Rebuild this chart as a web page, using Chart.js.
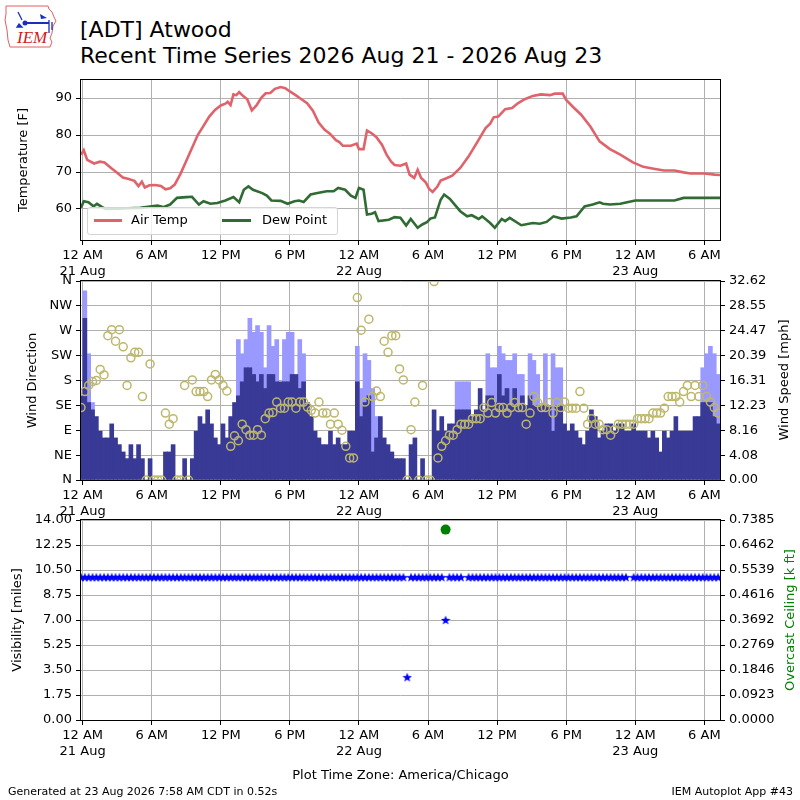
<!DOCTYPE html>
<html>
<head>
<meta charset="utf-8">
<title>[ADT] Atwood</title>
<script src="https://cdn.jsdelivr.net/npm/chart.js@4.4.1/dist/chart.umd.min.js"></script>
<style>
  body { margin: 0; background: #fff; font-family: 'DejaVu Sans', sans-serif; }
  #page { position: relative; width: 800px; height: 800px; overflow: hidden; background: #fff; }
  .panel { position: absolute; left: 0; }
  .txt { position: absolute; white-space: nowrap; color: #000; }
  .vtitle { position: absolute; white-space: nowrap; font-size: 13px; line-height: 16px;
    transform: translate(-50%, -50%) rotate(-90deg); }
</style>
</head>
<body>
<div id="page">
  <svg width="64" height="52" style="position:absolute;left:0;top:0">
    <path d="M6 6 L48 6 L49 9 L52 12 L54 17 L56 21 L53 26 L52 33 L50 38 L52 42 L50 47 L10 47 L8 40 L7 30 L5 20 L6 14 Z"
      fill="none" stroke="#e06060" stroke-width="1"/>
    <path d="M25 23 L49 23" stroke="#1a2fc0" stroke-width="2" fill="none"/>
    <circle cx="25" cy="23" r="2.5" fill="#1a2fc0"/>
    <path d="M18 12 L22 20 M19 24 L22 27 L17 27 Z" stroke="#1a2fc0" stroke-width="1.3" fill="#1a2fc0"/>
    <path d="M40 14 L47 18 L41 19 Z" fill="#1a2fc0"/>
    <path d="M49 20 L49 33 M52 22 L52 30" stroke="#1a2fc0" stroke-width="1.3"/>
    <text x="17" y="43" font-family="Liberation Serif" font-style="italic" font-size="17" fill="#d02020">IEM</text>
  </svg>
  <div class="txt" style="left:80px;top:16px;font-size:22px;line-height:28px">[ADT] Atwood</div>
  <div class="txt" style="left:80px;top:42px;font-size:22px;line-height:28px">Recent Time Series 2026 Aug 21 - 2026 Aug 23</div>

  <canvas id="canvas-temp" class="panel" width="800" height="214" style="top:68px"></canvas>
  <div id="temp-legend" style="position:absolute;left:87px;top:207px;width:249px;height:26px;border:1px solid #d4d4d4;border-radius:3px;background:rgba(255,255,255,0.8)">
    <span style="position:absolute;left:6px;top:11px;width:28px;height:3px;background:#e0626b"></span>
    <span class="txt" style="left:43px;top:3px;font-size:13px;line-height:18px">Air Temp</span>
    <span style="position:absolute;left:134px;top:11px;width:29px;height:3px;background:#2f6b33"></span>
    <span class="txt" style="left:174px;top:3px;font-size:13px;line-height:18px">Dew Point</span>
  </div>
  <canvas id="canvas-wind" class="panel" width="800" height="256" style="top:266px"></canvas>
  <canvas id="canvas-vis" class="panel" width="800" height="282" style="top:505px"></canvas>

  <div class="vtitle" style="left:784px;top:380px">Wind Speed [mph]</div>
  <div class="vtitle" style="left:790px;top:620px;color:#008000">Overcast Ceiling [k ft]</div>

  <div class="txt" style="left:8px;top:785px;font-size:11px;line-height:14px">Generated at 23 Aug 2026 7:58 AM CDT in 0.52s</div>
  <div class="txt" style="right:7px;top:785px;font-size:11px;line-height:14px">IEM Autoplot App #43</div>
</div>
<script>
'use strict';

// hours since 12 AM 21 Aug (America/Chicago)
var tempHours = [-0.14, 0.1, 0.4, 1.0, 1.5, 1.9, 2.5, 3.0, 3.5, 4.0, 4.5, 4.85, 5.15, 5.4, 5.8, 6.3, 6.8, 7.2, 7.6, 8.0,
  8.5, 9.0, 9.5, 10.0, 10.5, 11.0, 11.5, 12.0, 12.4, 12.6, 12.85, 13.1, 13.35, 13.6, 14.0, 14.3, 14.7, 15.1, 15.5, 15.9,
  16.3, 16.7, 17.2, 17.6, 18.0, 18.5, 19.0, 19.5, 20.0, 20.5, 21.0, 21.5, 22.0, 22.3, 22.6, 23.3, 23.8, 24.0, 24.4, 24.7,
  25.1, 25.5, 26.0, 26.4, 26.8, 27.1, 27.6, 28.1, 28.4, 28.8, 29.1, 29.4, 29.8, 30.1, 30.4, 30.8, 31.1, 31.6, 32.1, 32.8,
  33.5, 34.2, 35.0, 35.4, 35.7, 36.1, 36.7, 37.3, 37.8, 38.4, 39.1, 39.8, 40.6, 41.0, 41.7, 42.0, 42.6, 43.3, 44.1, 44.9,
  45.8, 46.7, 47.8, 48.7, 49.6, 50.5, 51.4, 52.2, 52.8, 54.0, 54.9, 55.36];
var tempF = [74.7, 75.9, 73.3, 72.3, 72.8, 72.6, 71.0, 69.8, 68.5, 68.1, 67.6, 66.2, 67.4, 65.8, 66.4, 66.5, 66.2, 65.3, 65.6, 66.6,
  69.5, 73.0, 76.5, 80.0, 82.5, 85.0, 86.8, 88.0, 88.5, 89.0, 88.1, 91.0, 90.8, 91.6, 90.4, 89.7, 86.7, 88.0, 90.0, 91.3,
  91.4, 92.5, 93.0, 92.7, 91.8, 90.8, 89.7, 88.6, 86.6, 83.4, 81.5, 80.3, 78.6, 78.1, 77.1, 77.1, 77.7, 76.2, 76.2, 81.2,
  80.5, 79.5, 77.4, 74.7, 72.8, 71.9, 71.7, 72.3, 69.3, 68.4, 70.6, 68.4, 67.2, 65.4, 64.6, 66.0, 67.7, 68.3, 69.0, 71.1,
  74.1, 77.7, 81.9, 83.1, 84.8, 85.0, 87.0, 87.3, 88.6, 89.7, 90.6, 91.0, 90.8, 91.2, 91.2, 89.5, 87.6, 85.5, 82.3, 78.3,
  76.2, 74.7, 72.6, 71.4, 70.9, 70.4, 70.4, 69.9, 69.6, 69.6, 69.3, 69.2];

var dewHours = [-0.14, 0.1, 0.5, 0.95, 1.25, 1.7, 2.0, 3.0, 4.0, 5.0, 6.0, 6.5, 7.0, 7.6, 8.2, 9.0, 9.5, 10.1, 10.5, 11.1,
  11.7, 12.4, 13.1, 13.6, 14.0, 14.4, 14.8, 15.6, 16.0, 16.4, 17.2, 17.8, 18.4, 18.8, 19.2, 19.8, 20.4, 21.2, 21.8, 22.2,
  22.8, 23.3, 23.7, 24.0, 24.4, 24.7, 25.1, 25.4, 25.7, 26.6, 27.1, 27.6, 28.1, 28.5, 29.1, 29.5, 29.9, 30.2, 30.6, 31.1,
  31.4, 31.9, 32.8, 33.4, 33.8, 34.4, 34.7, 35.4, 35.8, 36.4, 36.7, 37.1, 38.1, 39.1, 39.7, 40.3, 40.9, 41.6, 42.4, 42.9,
  43.6, 44.3, 44.9, 45.2, 45.8, 46.7, 48.0, 51.4, 52.2, 55.36];
var dewF = [60.3, 62.1, 61.8, 60.7, 61.4, 60.5, 60.0, 60.1, 60.2, 60.3, 60.7, 60.9, 60.5, 61.2, 63.0, 63.2, 63.3, 61.2, 62.1, 61.4,
  61.6, 62.3, 63.2, 61.8, 65.2, 66.1, 65.2, 64.3, 63.6, 62.3, 62.2, 61.4, 62.1, 62.3, 61.9, 63.9, 64.3, 64.8, 64.8, 65.7,
  65.2, 63.6, 63.0, 65.7, 65.2, 58.5, 58.7, 59.1, 56.7, 57.1, 57.8, 57.6, 55.5, 57.3, 54.9, 55.8, 56.4, 57.4, 57.7, 62.5,
  63.9, 62.7, 59.4, 58.0, 58.3, 57.3, 58.0, 56.2, 54.9, 57.3, 56.7, 57.6, 55.6, 56.2, 56.0, 56.5, 58.0, 57.4, 57.7, 58.0,
  60.7, 61.2, 61.8, 61.4, 61.2, 61.4, 62.3, 62.3, 63.0, 63.0];

// 20 minute observations, first one at 23:52 20 Aug
var firstObsHour = -0.14;
var obsStepHours = 1 / 3;

var windSpeed = [ // mph
  13.8, 26.5, 12.7, 11.5, 10.4, 8.0, 6.9, 6.9, 9.2, 6.9, 5.8, 4.6,
  3.5, 5.8, 3.5, 5.8, 3.5, 0, 3.5, 0, 0, 0, 4.6, 4.6,
  5.8, 0, 0, 3.5, 0, 3.5, 8.0, 10.4, 9.2, 11.5, 9.2, 6.9,
  5.8, 9.2, 6.9, 10.4, 12.7, 13.8, 16.1, 18.4, 18.4, 17.3, 16.1, 17.3,
  15.0, 17.3, 17.3, 16.1, 16.1, 16.1, 16.1, 17.3, 17.3, 15.0, 16.1, 12.7,
  10.4, 8.0, 6.9, 5.8, 5.8, 8.0, 5.8, 6.9, 5.8, 5.8, 8.0, 8.0,
  16.1, 10.4, 12.7, 13.8, 4.6, 6.9, 10.4, 6.9, 5.8, 4.6, 3.5, 3.5,
  3.5, 0, 5.8, 6.9, 0, 3.5, 0, 0, 11.5, 8.0, 10.4, 8.0,
  9.2, 9.2, 11.5, 11.5, 11.5, 11.5, 10.4, 11.5, 15.0, 11.5, 13.8, 13.8,
  12.7, 17.3, 13.8, 15.0, 12.2, 15.0, 12.2, 13.8, 12.2, 13.8, 12.2, 12.2,
  12.2, 12.2, 12.2, 8.0, 12.2, 12.2, 9.2, 8.0, 9.2, 8.0, 6.9, 5.8,
  8.0, 11.5, 10.4, 6.9, 8.0, 9.2, 9.2, 8.0, 9.2, 9.2, 8.0, 8.0,
  9.2, 8.0, 8.0, 8.0, 6.9, 8.0, 6.9, 4.6, 8.0, 6.9, 8.0, 10.4,
  8.0, 8.0, 8.0, 8.0, 10.4, 10.4, 12.7, 12.7, 12.7, 10.4, 9.2];

var windGust = [ // mph
  null, 31.0, 20.7, 12.7, null, null, null, null, null, null, null, null,
  null, null, null, null, null, null, null, null, null, null, null, null,
  null, null, null, null, null, null, null, null, null, null, null, null,
  null, null, null, null, null, 23.0, 20.7, 23.0, 26.5, 24.2, 25.3, 24.2,
  18.4, 25.3, 21.9, 23.0, null, 23.0, 24.2, 24.2, null, 23.0, 20.7, null,
  null, null, null, null, null, null, null, null, null, null, null, null,
  21.9, 15.0, 20.7, 19.6, 15.0, 10.4, null, null, null, null, null, null,
  null, null, null, null, null, null, null, null, null, null, null, null,
  null, null, 16.1, 16.1, 16.1, 16.1, null, null, null, null, 20.7, 18.4,
  18.4, 21.9, 20.7, 19.6, 19.6, 20.7, 17.3, 17.3, null, 20.7, 19.6, 17.3,
  null, 20.7, null, 20.7, 18.4, 18.4, null, null, null, null, null, null,
  null, null, null, null, null, null, null, null, null, null, null, null,
  null, null, null, null, null, null, null, null, null, null, null, null,
  null, null, null, null, null, null, 18.4, 20.7, 21.9, 20.7, 17.3];

var windDir = [ // degrees
  131, 160, 171, 178, 180, 200, 190, 261, 272, 251, 272, 241,
  171, 221, 231, 231, 151, 0, 210, 0, 0, 0, 121, 101,
  111, 0, 0, 171, 0, 181, 160, 160, 160, 151, 181, 191,
  181, 171, 161, 61, 80, 71, 101, 91, 81, 81, 91, 81,
  111, 121, 122, 141, 130, 130, 141, 141, 130, 141, 141, 132,
  126, 121, 141, 121, 121, 101, 121, 101, 90, 61, 40, 40,
  330, 271, 141, 291, 151, 161, 151, 251, 231, 261, 261, 201,
  181, 0, 91, 141, 0, 171, 0, 0, 359, 40, 61, 71,
  81, 81, 91, 101, 101, 101, 111, 111, 111, 131, 121, 140,
  121, 131, 131, 121, 131, 140, 131, 131, 101, 121, 151, 140,
  131, 131, 140, 121, 140, 131, 141, 130, 130, 130, 160, 130,
  101, 111, 101, 101, 91, 91, 81, 91, 101, 101, 101, 101,
  101, 111, 111, 111, 111, 121, 121, 121, 130, 151, 151, 151,
  141, 160, 171, 151, 171, 151, 171, 151, 141, 131, 121];

var visMiles = [
  10, 10, 10, 10, 10, 10, 10, 10, 10, 10, 10, 10,
  10, 10, 10, 10, 10, 10, 10, 10, 10, 10, 10, 10,
  10, 10, 10, 10, 10, 10, 10, 10, 10, 10, 10, 10,
  10, 10, 10, 10, 10, 10, 10, 10, 10, 10, 10, 10,
  10, 10, 10, 10, 10, 10, 10, 10, 10, 10, 10, 10,
  10, 10, 10, 10, 10, 10, 10, 10, 10, 10, 10, 10,
  10, 10, 10, 10, 10, 10, 10, 10, 10, 10, 10, 10,
  10, 3, 10, 10, 10, 10, 10, 10, 10, 10, 10, 7,
  10, 10, 10, 10, null, 10, 10, 10, 10, 10, 10, 10,
  10, 10, 10, 10, 10, 10, 10, 10, 10, 10, 10, 10,
  10, 10, 10, 10, 10, 10, 10, 10, 10, 10, 10, 10,
  10, 10, 10, 10, 10, 10, 10, 10, 10, 10, 10, null,
  10, 10, 10, 10, 10, 10, 10, 10, 10, 10, 10, 10,
  10, 10, 10, 10, 10, 10, 10, 10, 10, 10, 10];

var ceilingObs = [95];
var ceilingKft = [0.703];

var hourTicks = [0, 6, 12, 18, 24, 30, 36, 42, 48, 54];
var dayLabels = ['21 Aug', '22 Aug', '23 Aug'];
var tempTicks = [60, 70, 80, 90];
var dirTickLabels = ['N', 'NE', 'E', 'SE', 'S', 'SW', 'W', 'NW', 'N'];
var speedTickLabels = ['0.00', '4.08', '8.16', '12.23', '16.31', '20.39', '24.47', '28.55', '32.62'];
var visTickLabels = ['0.00', '1.75', '3.50', '5.25', '7.00', '8.75', '10.50', '12.25', '14.00'];
var ceilTickLabels = ['0.0000', '0.0923', '0.1846', '0.2769', '0.3692', '0.4616', '0.5539', '0.6462', '0.7385'];

var tempColor = '#e0626b';
var dewColor = '#2f6b33';
var speedColor = '#393996';
var gustColor = '#9999ff';
var dirColor = '#bdb76b';

Chart.defaults.font.family = "'DejaVu Sans', sans-serif";
Chart.defaults.font.size = 13;
Chart.defaults.color = '#000';

function obsHour(i) { return firstObsHour + i * obsStepHours; }
function pairs(xs, ys) { return ys.map(function (v, i) { return { x: xs[i], y: v }; }); }
function obsPairs(values) { return values.map(function (v, i) { return { x: obsHour(i), y: v }; }); }
function evenly(min, max, n) {
  var out = [];
  for (var i = 0; i < n; i++) out.push(min + i * (max - min) / (n - 1));
  return out;
}

function hourLabel(h) {
  var hr = h % 24;
  var txt;
  if (hr === 0) txt = '12 AM';
  else if (hr === 12) txt = '12 PM';
  else txt = hr < 12 ? hr + ' AM' : (hr - 12) + ' PM';
  if (hr === 0) return [txt, dayLabels[h / 24]];
  return txt;
}

function starImage(size, color) {
  var c = document.createElement('canvas');
  c.width = size; c.height = size;
  var g = c.getContext('2d');
  var r = size / 2, ri = r * 0.42;
  g.beginPath();
  for (var i = 0; i < 10; i++) {
    var rad = i % 2 ? ri : r;
    var a = -Math.PI / 2 + i * Math.PI / 5;
    g.lineTo(r + rad * Math.cos(a), r + 0.5 + rad * Math.sin(a));
  }
  g.closePath();
  g.fillStyle = color;
  g.fill();
  return c;
}

var framePlugin = {
  id: 'frameArea',
  beforeDraw: function (chart) {
    var a = chart.chartArea, ctx = chart.ctx;
    ctx.save();
    ctx.fillStyle = '#fff';
    ctx.fillRect(a.left, a.top, a.right - a.left, a.bottom - a.top);
    ctx.restore();
  },
  afterDraw: function (chart) {
    var a = chart.chartArea, ctx = chart.ctx;
    ctx.save();
    ctx.strokeStyle = '#000';
    ctx.lineWidth = 1;
    ctx.strokeRect(Math.round(a.left) - 0.5, Math.round(a.top) - 0.5,
      Math.round(a.right - a.left) + 1, Math.round(a.bottom - a.top) + 1);
    ctx.restore();
  }
};

function timeAxis(height, z, title) {
  return {
    type: 'linear',
    position: 'bottom',
    min: -0.14,
    max: 55.36,
    offset: false,
    z: z,
    afterBuildTicks: function (scale) {
      scale.ticks = hourTicks.map(function (v) { return { value: v }; });
    },
    afterFit: function (scale) { scale.height = height; },
    grid: { color: '#b0b0b0', tickColor: '#000', tickLength: 5, offset: false },
    border: { display: false },
    ticks: {
      autoSkip: false, maxRotation: 0, padding: 3,
      callback: function (v) { return hourLabel(v); }
    },
    title: title ? { display: true, text: title, padding: { top: 0, bottom: 4 } } : { display: false }
  };
}

function sideAxis(o) {
  return {
    type: 'linear',
    position: o.position,
    min: o.min,
    max: o.max,
    z: o.z || 0,
    afterBuildTicks: function (scale) {
      scale.ticks = o.values.map(function (v) { return { value: v }; });
    },
    afterFit: function (scale) { scale.width = o.width; },
    grid: { color: '#b0b0b0', tickColor: '#000', tickLength: 5, drawOnChartArea: o.grid },
    border: { display: false },
    ticks: {
      autoSkip: false, padding: 4,
      callback: function (v, i) { return o.labels[i]; }
    },
    // right-hand titles are HTML so they read bottom to top
    title: o.title ? { display: true, text: o.title, padding: { top: o.titlePad, bottom: 0 } } : { display: false }
  };
}

var baseOptions = function (padding) {
  return {
    responsive: false,
    animation: false,
    events: [],
    layout: { padding: padding, autoPadding: false },
    plugins: { legend: { display: false }, tooltip: { enabled: false } }
  };
};

// temperature panel
var tempOpts = baseOptions({ top: 12, right: 80, bottom: 0, left: 0 });
tempOpts.scales = {
  x: timeAxis(42, 0),
  y: sideAxis({ position: 'left', min: 51.6, max: 94.9, width: 81, values: tempTicks,
    labels: tempTicks.map(String), grid: true, title: 'Temperature [F]', titlePad: 16 })
};
new Chart(document.getElementById('canvas-temp'), {
  type: 'line',
  data: {
    datasets: [
      { label: 'Air Temp', data: pairs(tempHours, tempF), borderColor: tempColor, borderWidth: 2.6,
        pointRadius: 0, tension: 0 },
      { label: 'Dew Point', data: pairs(dewHours, dewF), borderColor: dewColor, borderWidth: 2.6,
        pointRadius: 0, tension: 0 }
    ]
  },
  options: tempOpts,
  plugins: [framePlugin]
});

// wind panel
var windOpts = baseOptions({ top: 15, right: 0, bottom: 0, left: 0 });
windOpts.scales = {
  x: timeAxis(42, 1),
  ydir: sideAxis({ position: 'left', min: 0, max: 360, width: 81, values: evenly(0, 360, 9),
    labels: dirTickLabels, grid: true, z: 1, title: 'Wind Direction', titlePad: 25 }),
  yspd: sideAxis({ position: 'right', min: 0, max: 32.62, width: 80, values: evenly(0, 32.62, 9),
    labels: speedTickLabels, grid: false })
};
new Chart(document.getElementById('canvas-wind'), {
  type: 'bar',
  data: {
    datasets: [
      { type: 'scatter', label: 'Wind Direction', data: obsPairs(windDir), xAxisID: 'x', yAxisID: 'ydir',
        order: 0, pointRadius: 4, pointBorderWidth: 1.5, pointBorderColor: dirColor,
        pointBackgroundColor: 'rgba(0,0,0,0)', clip: 0 },
      { label: 'Wind Speed', data: obsPairs(windSpeed), xAxisID: 'x', yAxisID: 'yspd', order: 1,
        backgroundColor: speedColor, borderWidth: 0, barThickness: 4, grouped: false },
      { label: 'Wind Gust', data: obsPairs(windGust), xAxisID: 'x', yAxisID: 'yspd', order: 2,
        backgroundColor: gustColor, borderWidth: 0, barThickness: 4, grouped: false }
    ]
  },
  options: windOpts,
  plugins: [framePlugin]
});

// visibility / ceiling panel
var visOpts = baseOptions({ top: 15, right: 0, bottom: 0, left: 0 });
visOpts.scales = {
  x: timeAxis(67, 0, 'Plot Time Zone: America/Chicago'),
  yvis: sideAxis({ position: 'left', min: 0, max: 14, width: 81, values: evenly(0, 14, 9),
    labels: visTickLabels, grid: true, title: 'Visibility [miles]', titlePad: 10 }),
  yceil: sideAxis({ position: 'right', min: 0, max: 0.7385, width: 80, values: evenly(0, 0.7385, 9),
    labels: ceilTickLabels, grid: false })
};
new Chart(document.getElementById('canvas-vis'), {
  type: 'scatter',
  data: {
    datasets: [
      { label: 'Visibility', data: obsPairs(visMiles), xAxisID: 'x', yAxisID: 'yvis',
        pointStyle: starImage(10, '#0000ff'), pointRadius: 5, clip: 0 },
      { label: 'Overcast Ceiling', xAxisID: 'x', yAxisID: 'yceil',
        data: ceilingObs.map(function (k, i) { return { x: obsHour(k), y: ceilingKft[i] }; }),
        pointRadius: 5, pointBackgroundColor: '#008000', pointBorderColor: '#008000', pointBorderWidth: 0, clip: 0 }
    ]
  },
  options: visOpts,
  plugins: [framePlugin]
});
</script>
</body>
</html>
